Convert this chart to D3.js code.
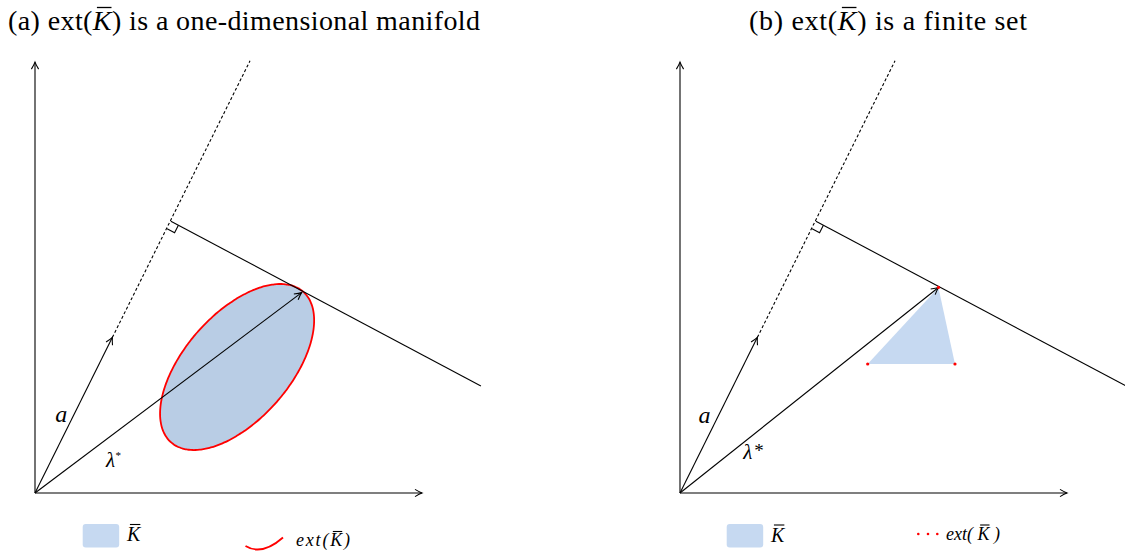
<!DOCTYPE html>
<html><head><meta charset="utf-8">
<script src="https://cdn.jsdelivr.net/npm/d3@7"></script>
<style>body{margin:0;background:#fff} svg{display:block}</style>
</head><body>
<svg id="c" width="1125" height="554"></svg>
<script>
// ---- data (diagram units) ----
const titlesA = ["(a) ext(", "K", ") is a one-dimensional manifold"];
const titlesB = ["(b) ext(", "K", ") is a finite set"];
const axisEnd = [9, 10.02];
const aTip = [1.8, 3.62];
const dashEnd = [5.0, 10.05];
const footPt = [3.16, 6.32];
const perpEnd = [10.37, 2.49];
const lambdaTipA = [6.2, 4.66];
const lambdaTipB = [6.01, 4.78];
const ellipseCenter = [4.70, 2.93];
const ellipseAxes = [2.33, 1.228];
const ellipseAngle = 48.8;
const trianglePts = [[6.01, 4.78], [4.365, 3.0], [6.395, 3.0]];
const aLabelPos = [[0.47, 1.65], [0.43, 1.63]];
const lamLabelPos = [[1.65, 0.60], [1.47, 0.79]];

const svg = d3.select("#c");
const y = d3.scaleLinear().domain([0, 10]).range([493, 63]);
const xA = d3.scaleLinear().domain([0, 9]).range([35, 422]);
const xB = d3.scaleLinear().domain([0, 9]).range([680, 1067]);

const serif = "'Liberation Serif', 'Times New Roman', serif";
const fillEll = "#b9cde5", fillTri = "#c6d9f1";

function arrowHead(g, from, to, L = 7, W = 3.6) {
  const dx = to[0] - from[0], dy = to[1] - from[1], len = Math.hypot(dx, dy);
  const d = [dx / len, dy / len], n = [-d[1], d[0]];
  const p1 = [to[0] - d[0] * L + n[0] * W, to[1] - d[1] * L + n[1] * W];
  const p2 = [to[0] - d[0] * L - n[0] * W, to[1] - d[1] * L - n[1] * W];
  const c1 = [to[0] - d[0] * L * 0.35 + n[0] * W * 0.25, to[1] - d[1] * L * 0.35 + n[1] * W * 0.25];
  const c2 = [to[0] - d[0] * L * 0.35 - n[0] * W * 0.25, to[1] - d[1] * L * 0.35 - n[1] * W * 0.25];
  g.append("path").attr("d", `M${p1}Q${c1} ${to}Q${c2} ${p2}`)
    .attr("fill", "none").attr("stroke", "#000").attr("stroke-width", 1.1);
}
function seg(g, a, b, extra) {
  const l = g.append("line").attr("x1", a[0]).attr("y1", a[1]).attr("x2", b[0]).attr("y2", b[1])
    .attr("stroke", "#000").attr("stroke-width", 1.1);
  if (extra) extra(l);
  return l;
}
function overlineChar(textSel, idx, dy = 0, w = 1.1) {
  const ext = textSel.node().getExtentOfChar(idx);
  svg.append("line").attr("x1", ext.x + ext.width * 0.22).attr("x2", ext.x + ext.width * 1.0)
    .attr("y1", ext.y + dy).attr("y2", ext.y + dy).attr("stroke", "#000").attr("stroke-width", w);
}

function title(parts, x0, base, width) {
  const t = svg.append("text").attr("x", x0).attr("y", base)
    .attr("font-family", serif).attr("font-size", 28).attr("fill", "#000");
  t.append("tspan").text(parts[0]);
  t.append("tspan").attr("font-style", "italic").text(parts[1]);
  t.append("tspan").text(parts[2]);
  t.attr("textLength", width).attr("lengthAdjust", "spacing");
  overlineChar(t, parts[0].length, 2.5, 1.3);
}

function panel(x, lamTip, idx) {
  const g = svg.append("g");
  const O = [x(0), y(0)];
  const P = d => [x(d[0]), y(d[1])];
  if (idx === 0) {
    const th = ellipseAngle * Math.PI / 180;
    const pts = d3.range(0, 360, 2).map(k => {
      const t = k * Math.PI / 180;
      const ex = ellipseAxes[0] * Math.cos(t), ey = ellipseAxes[1] * Math.sin(t);
      return [ellipseCenter[0] + ex * Math.cos(th) - ey * Math.sin(th),
              ellipseCenter[1] + ex * Math.sin(th) + ey * Math.cos(th)];
    });
    g.append("path").attr("d", d3.line().x(d => x(d[0])).y(d => y(d[1])).curve(d3.curveCardinalClosed)(pts))
      .attr("fill", fillEll).attr("stroke", "#ff0000").attr("stroke-width", 1.8);
  } else {
    g.append("path").attr("d", d3.line().x(d => x(d[0])).y(d => y(d[1]))(trianglePts) + "Z")
      .attr("fill", fillTri).attr("stroke", "none");
  }
  seg(g, O, P([0, axisEnd[1]])); arrowHead(g, O, P([0, axisEnd[1]]));
  seg(g, O, P([axisEnd[0], 0])); arrowHead(g, O, P([axisEnd[0], 0]));
  seg(g, O, P(aTip)); arrowHead(g, O, P(aTip));
  seg(g, P(aTip), P(dashEnd), l => l.attr("stroke-dasharray", "3,2.2"));
  const F = P(footPt), E = P(perpEnd);
  seg(g, F, E);
  const u = [E[0] - F[0], E[1] - F[1]], ul = Math.hypot(...u);
  const v = [O[0] - F[0], O[1] - F[1]], vl = Math.hypot(...v);
  const s = 8.5;
  const uu = [u[0] / ul * s, u[1] / ul * s], vv = [v[0] / vl * s, v[1] / vl * s];
  g.append("path").attr("d", `M${F[0] + uu[0]},${F[1] + uu[1]}L${F[0] + uu[0] + vv[0]},${F[1] + uu[1] + vv[1]}L${F[0] + vv[0]},${F[1] + vv[1]}`)
    .attr("fill", "none").attr("stroke", "#000").attr("stroke-width", 1.1);
  const L = P(lamTip);
  seg(g, O, L); arrowHead(g, O, L);
  if (idx === 1) {
    trianglePts.forEach(p => g.append("circle").attr("cx", x(p[0])).attr("cy", y(p[1])).attr("r", 1.6).attr("fill", "#ff0000"));
  }
  g.append("text").attr("x", x(aLabelPos[idx][0])).attr("y", y(aLabelPos[idx][1]))
    .attr("font-family", serif).attr("font-style", "italic").attr("font-size", 24).text("a");
  const lt = g.append("text").attr("x", x(lamLabelPos[idx][0])).attr("y", y(lamLabelPos[idx][1]))
    .attr("font-family", serif).attr("font-style", "italic").attr("font-size", 21);
  lt.append("tspan").text("λ");
  if (idx === 0) lt.append("tspan").attr("font-size", 11).attr("dy", -8).text("*");
  else lt.append("tspan").attr("font-size", 19).attr("dx", 2).attr("dy", -2).attr("font-style", "normal").text("*");
}

panel(xA, lambdaTipA, 0);
panel(xB, lambdaTipB, 1);
title(titlesA, 8, 30, 472);
title(titlesB, 749, 30, 278);

function legendRect(x0) {
  svg.append("rect").attr("x", x0).attr("y", 524).attr("width", 36.5).attr("height", 23.5)
    .attr("rx", 3).attr("fill", fillTri);
}
function italicWithBar(x0, base, size, parts, kIndex, dy, len) {
  const t = svg.append("text").attr("x", x0).attr("y", base).attr("font-family", serif)
    .attr("font-style", "italic").attr("font-size", size).text(parts);
  if (len) t.attr("textLength", len).attr("lengthAdjust", "spacing");
  overlineChar(t, kIndex, dy);
  return t;
}
legendRect(82.7);
italicWithBar(127, 541, 20, "K", 0, 1.5);
svg.append("path").attr("d", "M245.5,546Q262,556 283,537.5").attr("fill", "none")
  .attr("stroke", "#ff0000").attr("stroke-width", 1.8);
italicWithBar(296, 546, 18, "ext(K)", 4, 1.5, 54);

legendRect(726.7);
italicWithBar(771, 541.5, 20, "K", 0, 1.5);
[918.3, 928, 937.3].forEach(cx => svg.append("circle").attr("cx", cx).attr("cy", 534).attr("r", 1.3).attr("fill", "#ff0000"));
italicWithBar(946, 539.5, 18, "ext( K )", 5, 1.5, 54);
</script>
</body></html>
